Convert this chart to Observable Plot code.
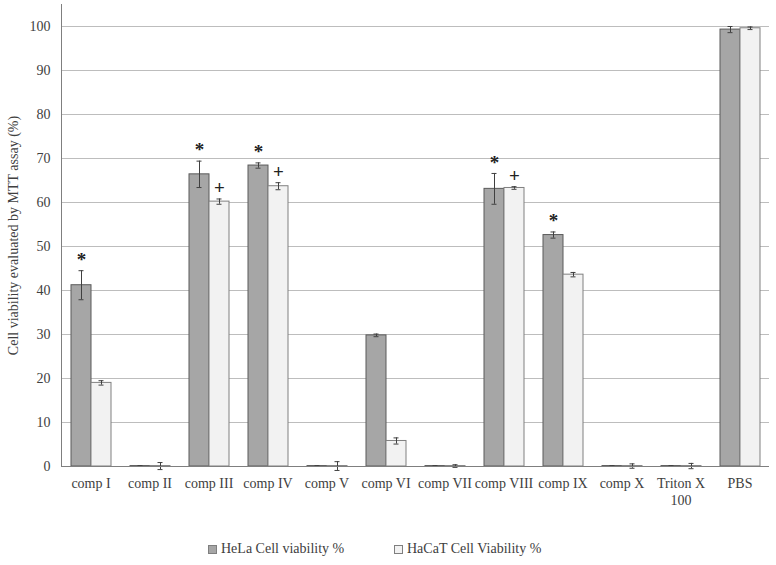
<!DOCTYPE html>
<html><head><meta charset="utf-8">
<script src="https://cdn.jsdelivr.net/npm/d3@7"></script>
<script src="https://cdn.jsdelivr.net/npm/@observablehq/plot@0.6"></script>
<style>
body{margin:0;background:#fff;font-family:"Liberation Serif","Times New Roman",serif;color:#404040;}
#wrap{position:relative;width:776px;height:565px;}
.leg{position:absolute;top:541px;font-size:14px;display:flex;align-items:center;white-space:nowrap;}
.sw{width:7px;height:7px;margin-right:4px;border:1px solid #7f7f7f;}
</style></head><body><div id="wrap"></div>
<script>
const categories = ["comp I","comp II","comp III","comp IV","comp V","comp VI","comp VII","comp VIII","comp IX","comp X","Triton X 100","PBS"];
const series = ["HeLa Cell viability %","HaCaT Cell Viability %"];
const hela     = [41.2, 0.1, 66.4, 68.4, 0.1, 29.8, 0.1, 63.1, 52.6, 0.1, 0.1, 99.3];
const helaErr  = [3.3, 0.1, 3.0, 0.6, 0.1, 0.3, 0.1, 3.5, 0.7, 0.1, 0.1, 0.7];
const hacat    = [19.0, 0.1, 60.2, 63.7, 0.1, 5.8, 0.1, 63.3, 43.6, 0.1, 0.1, 99.6];
const hacatErr = [0.5, 0.8, 0.6, 0.8, 1.0, 0.7, 0.3, 0.3, 0.5, 0.5, 0.6, 0.3];
const helaMark  = ["*","","*","*","","","","*","*","","",""];
const hacatMark = ["","","+","+","","","","+","","","",""];
const yTicks = [0,10,20,30,40,50,60,70,80,90,100];
const colors = ["#a6a6a6","#f2f2f2"];
const strokes = ["#5a5a5a","#808080"];

const rows = [];
categories.forEach((c,i)=>{
  rows.push({cat:c, s:series[0], v:hela[i], e:helaErr[i], m:helaMark[i]});
  rows.push({cat:c, s:series[1], v:hacat[i], e:hacatErr[i], m:hacatMark[i]});
});
const marked = rows.filter(d=>d.m);

const chart = Plot.plot({
  width:776, height:530, marginLeft:58, marginRight:5, marginTop:4, marginBottom:64,
  style:{fontFamily:"'Liberation Serif','Times New Roman',serif", fontSize:"13px", color:"#404040", background:"#fff"},
  fx:{domain:categories, padding:0, label:null},
  x:{domain:series, paddingInner:0, paddingOuter:0.41, axis:null},
  y:{domain:[0,105], label:null},
  color:{domain:series, range:colors},
  marks:[
    Plot.gridY(yTicks.slice(1), {stroke:"#bdbdbd", strokeOpacity:1}),
    Plot.axisY(yTicks, {tickSize:0, tickPadding:11, fontSize:14, label:"Cell viability evaluated by MTT assay (%)", labelAnchor:"center", labelArrow:"none", labelOffset:53}),
    Plot.axisFx({anchor:"bottom", tickSize:0, tickPadding:10, fontSize:14, label:null, lineHeight:1.2,
      tickFormat:d => d === "Triton X 100" ? "Triton X\n100" : d}),
    Plot.barY(rows, {fx:"cat", x:"s", y:"v", fill:"s", stroke:d=>strokes[series.indexOf(d.s)], strokeWidth:1}),
    Plot.ruleX(rows, {fx:"cat", x:"s", y1:d=>d.v-d.e, y2:d=>d.v+d.e, stroke:"#404040", strokeWidth:1}),
    Plot.tickY(rows, {fx:"cat", x:"s", y:d=>d.v+d.e, stroke:"#404040", insetLeft:7.5, insetRight:7.5}),
    Plot.tickY(rows, {fx:"cat", x:"s", y:d=>d.v-d.e, stroke:"#404040", insetLeft:7.5, insetRight:7.5}),
    Plot.text(marked, {fx:"cat", x:"s", y:d=>d.v+d.e, text:"m", fontSize:19, fontWeight:"bold", fill:"#222", lineAnchor:"middle", dy:-11}),
    Plot.ruleY([0], {stroke:"#7f7f7f"}),
    Plot.frame({anchor:"left", facetAnchor:"left", stroke:"#7f7f7f"})
  ]
});
const wrap = document.getElementById("wrap");
wrap.appendChild(chart);
const legPos = [208, 394];
series.forEach((s,i)=>{
  const d = document.createElement("div");
  d.className = "leg";
  d.style.left = legPos[i] + "px";
  d.innerHTML = `<span class="sw" style="background:${colors[i]}"></span><span>${s}</span>`;
  wrap.appendChild(d);
});
</script>
</body></html>
